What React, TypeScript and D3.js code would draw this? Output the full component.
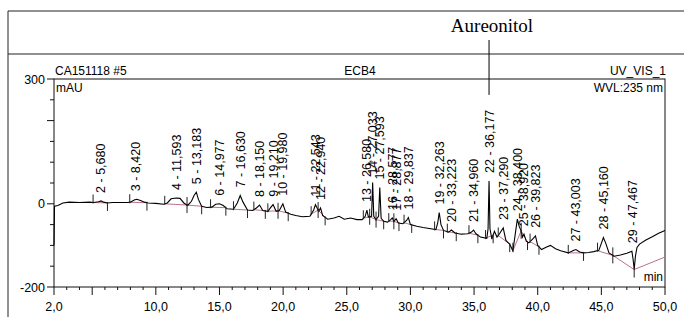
import React from 'react';
import * as d3 from 'd3';

// chromatogram trace: [time (min), signal (mAU)]
const trace: [number, number][] = [
  [2.0, -100], [2.04, -6], [2.3, -4], [2.7, 2], [3.2, 4], [4.0, 3], [4.8, 4],
  [5.1, 3], [5.5, 5], [5.7, 7], [5.9, 4], [6.2, 2], [6.6, 3], [7.2, 3], [7.8, 3],
  [8.0, 4], [8.3, 9], [8.5, 11], [8.8, 8], [9.1, 4], [9.4, 2], [10.0, 1], [10.6, -1],
  [10.9, 2], [11.2, 12], [11.6, 14], [11.9, 13], [12.2, 2], [12.5, -4],
  [12.8, 6], [13.0, 20], [13.18, 28], [13.35, 10], [13.6, -6], [14.0, -9], [14.4, -8],
  [14.7, -1], [15.0, 0], [15.3, -4], [15.6, -12], [16.1, -13],
  [16.4, 2], [16.63, 20], [16.85, 4], [17.2, -15], [17.6, -16],
  [17.9, -10], [18.15, -3], [18.4, -16], [18.8, -18],
  [19.0, -10], [19.21, -2], [19.45, -18], [19.7, -16],
  [19.98, 0], [20.2, -20], [20.6, -25], [21.0, -28], [21.5, -31], [22.1, -30],
  [22.4, -15], [22.54, -2], [22.7, -12], [22.8, -18], [22.94, -10], [23.1, -28],
  [23.5, -37], [24.0, -34], [24.4, -30], [24.8, -37], [25.3, -34], [25.8, -38], [26.2, -38],
  [26.45, -30], [26.58, -15], [26.7, -32], [26.95, -30], [27.033, 51], [27.12, -30],
  [27.3, -38], [27.5, -30], [27.593, 39], [27.7, -35], [27.9, -42], [28.2, -44],
  [28.45, -38], [28.577, -34], [28.7, -42], [28.877, -36], [29.05, -46], [29.4, -48],
  [29.7, -40], [29.837, -33], [30.0, -50], [30.5, -54], [31.0, -57], [31.6, -60], [32.0, -62],
  [32.15, -45], [32.263, -21], [32.4, -50], [32.6, -64], [33.0, -68],
  [33.223, -63], [33.5, -70], [34.0, -73], [34.5, -72],
  [34.8, -68], [34.96, -63], [35.15, -72], [35.5, -80], [36.0, -83],
  [36.1, -60], [36.177, 55], [36.25, -60], [36.4, -85], [36.6, -66], [36.8, -80],
  [37.0, -72], [37.29, -58], [37.5, -88], [37.8, -97], [38.05, -113],
  [38.25, -70], [38.4, -37], [38.55, -55], [38.7, -65], [38.8, -80], [38.92, -73],
  [39.1, -90], [39.3, -94], [39.6, -85], [39.823, -77], [40.0, -100], [40.3, -110],
  [40.7, -104], [41.0, -100], [41.4, -108], [41.8, -113], [42.4, -118],
  [42.8, -112], [43.0, -110], [43.3, -116], [43.6, -118], [44.0, -117], [44.4, -115], [44.8, -112],
  [45.0, -95], [45.16, -81], [45.35, -95], [45.6, -118], [46.0, -126], [46.5, -123],
  [47.0, -119], [47.4, -114], [47.5, -135], [47.58, -158], [47.68, -125], [47.8, -105],
  [48.0, -97], [48.5, -87], [49.0, -79], [49.5, -71], [50.0, -64],
];

// integrated peaks
const peakNo = [2, 3, 4, 5, 6, 7, 8, 9, 10, 11, 12, 13, 14, 15, 16, 17, 18, 19, 20, 21, 22, 23, 24, 25, 26, 27, 28, 29];
const peakRT = [5.680, 8.420, 11.593, 13.183, 14.977, 16.630, 18.150, 19.210, 19.980, 22.543, 22.940,
  26.580, 27.033, 27.593, 28.577, 28.877, 29.837, 32.263, 33.223, 34.960, 36.177, 37.290, 38.400,
  38.920, 39.823, 43.003, 45.160, 47.467];
const peakStart = [5.07, 7.95, 10.7, 12.45, 14.3, 16.1, 17.7, 18.8, 19.6, 22.2, 22.75, 26.3, 26.8,
  27.3, 28.3, 28.7, 29.5, 31.9, 32.9, 34.6, 35.9, 36.9, 38.05, 38.7, 39.4, 42.4, 44.7, 45.9];
const peakEnd = [6.2, 9.3, 12.45, 13.6, 15.5, 17.2, 18.6, 19.6, 20.4, 22.75, 23.3, 26.8, 27.3, 27.9,
  28.7, 29.1, 30.1, 32.6, 33.6, 35.3, 36.5, 37.8, 38.7, 39.2, 40.1, 43.6, 45.9, 47.58];
const tailBaseline: [number, number][] = [[47.58, -158], [50, -128]];

const xLabelTicks = [2, 10, 15, 20, 25, 30, 35, 40, 45, 50];
const yLabelTicks = [300, 0, -200];
const annotatedPeak = 22;
const annotation = 'Aureonitol';

const font = "'Liberation Sans', Arial, sans-serif";

function traceAt(t: number) {
  for (let i = 0; i < trace.length - 1; i++) {
    const [t0, v0] = trace[i];
    const [t1, v1] = trace[i + 1];
    if (t >= t0 && t <= t1) return v0 + ((v1 - v0) * (t - t0)) / (t1 - t0);
  }
  return trace[trace.length - 1][1];
}

function apexAt(rt: number) {
  let m = traceAt(rt);
  trace.forEach(([t, v]) => {
    if (Math.abs(t - rt) <= 0.1 && v > m) m = v;
  });
  return m;
}

export default function App() {
  const x = d3.scaleLinear().domain([2, 50]).range([54, 665]);
  const y = d3.scaleLinear().domain([-200, 300]).range([287, 79]);
  const line = d3.line<[number, number]>().x(d => x(d[0])).y(d => y(d[1]));
  const comma = (v: number, p: number) => v.toFixed(p).replace('.', ',');

  const minorX = d3.range(3, 50, 1).filter(t => t % 5 !== 0);
  const majorX = d3.range(5, 51, 5);
  const yTicks = d3.range(-200, 301, 50);

  const peaks = peakNo.map((n, i) => {
    const rt = peakRT[i];
    const apex = apexAt(rt);
    return {
      n, rt,
      label: `${n} - ${comma(rt, 3)}`,
      lx: x(rt) + 4.5,
      ly: y(apex) - 8,
      s: [peakStart[i], traceAt(peakStart[i])] as [number, number],
      e: [peakEnd[i], traceAt(peakEnd[i])] as [number, number],
    };
  });
  const ann = peaks.find(p => p.n === annotatedPeak)!;

  return (
    <svg width={684} height={317} style={{ position: 'absolute', left: 0, top: 0, background: '#fff' }}
      fontFamily={font}>
      {/* page frame */}
      <line x1={8} y1={11} x2={684} y2={11} stroke="#222" />
      <line x1={8} y1={11} x2={8} y2={317} stroke="#222" />
      <line x1={8} y1={54} x2={684} y2={54} stroke="#222" />
      <text x={492} y={32} fontFamily="'Liberation Serif', 'Times New Roman', serif" fontSize={19}
        textAnchor="middle">{annotation}</text>
      <line x1={x(ann.rt)} y1={40} x2={x(ann.rt)} y2={ann.ly - 78} stroke="#000" />

      {/* header */}
      <text x={55} y={75} fontSize={12}>CA151118 #5</text>
      <text x={360} y={75} fontSize={12} textAnchor="middle">ECB4</text>
      <text x={666} y={75} fontSize={12} textAnchor="end">UV_VIS_1</text>
      <text x={663} y={92} fontSize={12} textAnchor="end">WVL:235 nm</text>
      <text x={56} y={92} fontSize={12}>mAU</text>
      <text x={663} y={281} fontSize={12} textAnchor="end">min</text>

      {/* plot frame */}
      <rect x={54} y={79} width={611} height={208} fill="none" stroke="#111" />

      {/* y axis ticks */}
      {yTicks.map(v => (
        <line key={v} x1={yLabelTicks.includes(v) || v === 200 ? 47 : 50} x2={54} y1={y(v)} y2={y(v)} stroke="#111" />
      ))}
      {yLabelTicks.map(v => (
        <text key={v} x={45} y={y(v) + 4.5} fontSize={12.5} textAnchor="end">{v}</text>
      ))}

      {/* x axis ticks */}
      {minorX.map(t => (
        <line key={t} x1={x(t)} x2={x(t)} y1={287} y2={290} stroke="#111" />
      ))}
      {[2, ...majorX].map(t => (
        <line key={'M' + t} x1={x(t)} x2={x(t)} y1={287} y2={295} stroke="#111" />
      ))}
      {xLabelTicks.map(t => (
        <text key={t} x={x(t)} y={311} fontSize={12.5} textAnchor="middle">{comma(t, 1)}</text>
      ))}

      {/* integration baselines */}
      {peaks.map(p => (
        <path key={'b' + p.n} d={line([p.s, p.e])!} stroke="#c0708a" fill="none" />
      ))}
      <path d={line(tailBaseline)!} stroke="#c0708a" fill="none" />

      {/* trace */}
      <path d={line(trace)!} stroke="#000" fill="none" strokeWidth={1.1} />

      {/* peak delimiters */}
      {peaks.map(p => (
        <g key={'d' + p.n} stroke="#222">
          <line x1={x(p.s[0])} x2={x(p.s[0])} y1={y(p.s[1]) - 8} y2={y(p.s[1]) + 1} />
          <line x1={x(p.e[0])} x2={x(p.e[0])} y1={y(p.e[1]) - 1} y2={y(p.e[1]) + 8} />
        </g>
      ))}

      {/* peak labels */}
      {peaks.map(p => (
        <text key={'l' + p.n} transform={`translate(${p.lx},${p.ly}) rotate(-90)`} fontSize={12.5}>
          {p.label}
        </text>
      ))}
    </svg>
  );
}
